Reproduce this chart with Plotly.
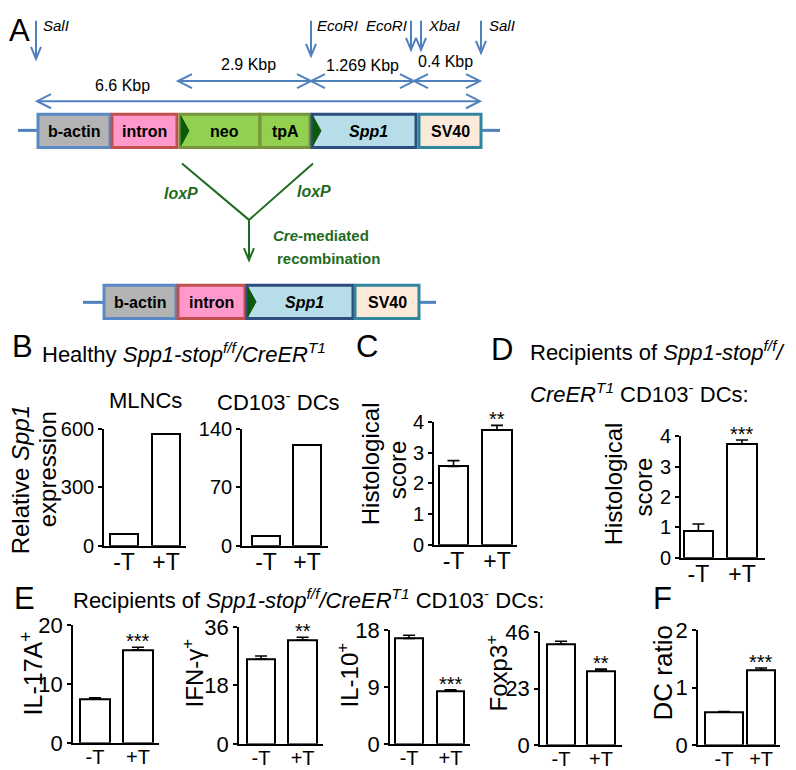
import plotly.graph_objects as go

# figure size and how the figure lands in the final picture
WF, HF = 780, 780
OX = 8                 # left page margin
SY, TY = 0.9625, 20    # vertical picture scale and top offset

groups = ['-T', '+T']

# B: relative Spp1 expression
mlnc_expr = [62, 574]
dc_expr = [12, 121]
# C / D: histological score
hist_c = [2.55, 3.74]
hist_c_err = [0.19, 0.15]
hist_d = [0.89, 3.74]
hist_d_err = [0.22, 0.13]
# E: % positive cells
il17a = [7.4, 15.8]
il17a_err = [0.25, 0.45]
ifng = [26.2, 32.0]
ifng_err = [0.9, 0.9]
il10 = [16.7, 8.4]
il10_err = [0.5, 0.15]
foxp3 = [41.1, 30.1]
foxp3_err = [1.2, 0.8]
# F
dc_ratio = [0.57, 1.30]
dc_ratio_err = [0.01, 0.04]

SANS = 'Liberation Sans, Arial, sans-serif'

Y_TOP = SY * TY
Y_BOT = SY * (TY + HF)


def px_x(x):
    return (x - OX) / WF


def px_y(y):
    return (Y_BOT - y) / (Y_BOT - Y_TOP)


panels = [
    dict(y=mlnc_expr, err=None, ymax=600, ticks=[0, 300, 600], box=(104, 186, 542, 426),
         xr=[-0.476, 1.476], w=0.667, stars=None, tf=20, xf=23),
    dict(y=dc_expr, err=None, ymax=140, ticks=[0, 70, 140], box=(242, 328, 542, 426),
         xr=[-0.585, 1.51], w=0.68, stars=None, tf=20, xf=23),
    dict(y=hist_c, err=hist_c_err, ymax=4, ticks=[0, 1, 2, 3, 4], box=(434, 517, 541, 419),
         xr=[-0.448, 1.46], w=0.67, stars='**', tf=20, xf=23),
    dict(y=hist_d, err=hist_d_err, ymax=4, ticks=[0, 1, 2, 3, 4], box=(681, 765, 554, 433),
         xr=[-0.40, 1.53], w=0.68, stars='***', tf=20, xf=23),
    dict(y=il17a, err=il17a_err, ymax=20, ticks=[0, 10, 20], box=(73, 159, 738, 621),
         xr=[-0.51, 1.49], w=0.7, stars='***', tf=22, xf=20),
    dict(y=ifng, err=ifng_err, ymax=36, ticks=[0, 18, 36], box=(239, 323, 739, 623),
         xr=[-0.53, 1.49], w=0.68, stars='**', tf=22, xf=20),
    dict(y=il10, err=il10_err, ymax=18, ticks=[0, 9, 18], box=(390, 470, 739, 626),
         xr=[-0.46, 1.47], w=0.67, stars='***', tf=22, xf=20),
    dict(y=foxp3, err=foxp3_err, ymax=46, ticks=[0, 23, 46], box=(540, 622, 740, 628),
         xr=[-0.525, 1.525], w=0.7, stars='**', tf=22, xf=20),
    dict(y=dc_ratio, err=dc_ratio_err, ymax=2, ticks=[0, 1, 2], box=(698, 780, 740, 626),
         xr=[-0.70, 1.51], w=[1.03, 0.76], stars='***', tf=22, xf=20),
]

fig = go.Figure()
layout = {}
annotations = []

for i, p in enumerate(panels, start=1):
    x0, x1, yb, yt = p['box']
    xa, ya = f'x{i}', f'y{i}'
    err = None
    if p['err'] is not None:
        err = dict(type='data', array=p['err'], arrayminus=[0, 0], symmetric=False,
                   color='black', thickness=1.6, width=6)
    fig.add_trace(go.Bar(
        x=[0, 1], y=p['y'], width=p['w'], xaxis=xa, yaxis=ya,
        marker=dict(color='white', line=dict(color='black', width=2)),
        error_y=err, showlegend=False, hoverinfo='skip'))
    layout[f'xaxis{i}'] = dict(
        domain=[px_x(x0), px_x(x1)], anchor=ya, range=p['xr'], tickvals=[0, 1], ticktext=groups,
        showline=True, linecolor='black', linewidth=1.6, ticks='', ticklen=0, showgrid=False,
        zeroline=False, ticklabelstandoff=-5,
        tickfont=dict(family=SANS, size=p['xf'], color='black'), fixedrange=True)
    layout[f'yaxis{i}'] = dict(
        domain=[px_y(yb), px_y(yt)], anchor=xa, range=[0, p['ymax']], tickvals=p['ticks'],
        showline=True, linecolor='black', linewidth=1.6, ticks='outside', ticklen=4,
        tickwidth=1.6, tickcolor='black', showgrid=False, zeroline=False,
        tickfont=dict(family=SANS, size=p['tf'], color='black'), fixedrange=True)
    if p['stars']:
        annotations.append(dict(
            xref=xa, yref=ya, x=1, y=p['y'][1] + p['err'][1], text=p['stars'],
            showarrow=False, yanchor='bottom', yshift=-7,
            font=dict(family=SANS, size=20, color='black')))

# overlay axis in reference picture pixels for the schematic and free text
layout['xaxis10'] = dict(domain=[0, 1], range=[OX, OX + WF], visible=False, fixedrange=True,
                         anchor='y10')
layout['yaxis10'] = dict(domain=[0, 1], range=[Y_BOT, Y_TOP], visible=False, fixedrange=True,
                         anchor='x10')
fig.add_trace(go.Scatter(x=[None], y=[None], xaxis='x10', yaxis='y10', showlegend=False))


def txt(x, y, s, size, color='black', xanchor='center', angle=0):
    annotations.append(dict(xref='x10', yref='y10', x=x, y=y, text=s, showarrow=False,
                            xanchor=xanchor, yanchor='middle', textangle=angle,
                            font=dict(family=SANS, size=size, color=color)))


shapes = []
BLUE = '#4f81bd'
GREEN = '#1f6b1f'


def line(x0, y0, x1, y1, color=BLUE, width=2):
    shapes.append(dict(type='line', xref='x10', yref='y10', x0=x0, y0=y0, x1=x1, y1=y1,
                       line=dict(color=color, width=width)))


def path(d, color=BLUE, width=2, fill=None):
    s = dict(type='path', xref='x10', yref='y10', path=d, line=dict(color=color, width=width))
    if fill:
        s['fillcolor'] = fill
    shapes.append(s)


def down_arrow(x, y0, y1, color=BLUE):
    line(x, y0, x, y1, color)
    path(f'M {x-5} {y1-12} L {x} {y1} L {x+5} {y1-12}', color)


def dbl_arrow(x0, x1, y):
    line(x0, y, x1, y)
    path(f'M {x0+14} {y-7} L {x0} {y} L {x0+14} {y+7}')
    path(f'M {x1-14} {y-7} L {x1} {y} L {x1-14} {y+7}')


def box(x0, x1, y0, y1, fill, edge, label, tri=False):
    shapes.append(dict(type='rect', xref='x10', yref='y10', x0=x0, x1=x1, y0=y0, y1=y1,
                       fillcolor=fill, line=dict(color=edge, width=3)))
    if tri:
        ym = (y0 + y1) / 2
        path(f'M {x0+1} {y0+2} L {x0+9} {ym} L {x0+1} {y1-2} Z', '#0b5a0b', 1, '#0b5a0b')
    txt((x0 + x1) / 2 + (4 if tri else 0), (y0 + y1) / 2 + 1, label, 16)


# A: restriction sites
down_arrow(36, 20, 58)
down_arrow(311, 20, 55)
down_arrow(411, 20, 49)
down_arrow(421, 20, 49)
down_arrow(481, 20, 52)
txt(41, 25, '<i>SalI</i>', 15, xanchor='left')
txt(315, 25, '<i>EcoRI</i>', 15, xanchor='left')
txt(364, 25, '<i>EcoRI</i>', 15, xanchor='left')
txt(426, 25, '<i>XbaI</i>', 15, xanchor='left')
txt(487, 25, '<i>SalI</i>', 15, xanchor='left')

dbl_arrow(178, 311, 80)
dbl_arrow(311, 414, 80)
dbl_arrow(414, 480, 80)
dbl_arrow(37, 480, 100)
txt(248, 63, '2.9 Kbp', 16)
txt(362, 64, '1.269 Kbp', 16)
txt(445, 61, '0.4 Kbp', 16)
txt(122, 84, '6.6 Kbp', 16)

# construct before recombination
line(18, 129, 37, 129, width=3)
line(482, 129, 500, 129, width=3)
box(38, 110, 113, 146, '#b3b3b3', '#5a8ac6', '<b>b-actin</b>')
box(112, 177, 113, 146, '#ff99cc', '#c0504d', '<b>intron</b>')
box(180, 260, 113, 146, '#92d050', '#77933c', '<b>neo</b>', tri=True)
box(260, 310, 113, 146, '#92d050', '#77933c', '<b>tpA</b>')
box(312, 416, 113, 146, '#b7dee8', '#2e4d7f', '<b><i>Spp1</i></b>', tri=True)
box(419, 481, 113, 146, '#fde9d9', '#31859c', '<b>SV40</b>')

# recombination
line(182, 162, 249, 218, GREEN)
line(313, 162, 249, 218, GREEN)
down_arrow(249, 218, 258, GREEN)
txt(181, 192, '<b><i>loxP</i></b>', 16, GREEN)
txt(314, 190, '<b><i>loxP</i></b>', 16, GREEN)
txt(321, 234, '<b><i>Cre</i>-mediated</b>', 15, GREEN)
txt(328, 256, '<b>recombination</b>', 15, GREEN)

# construct after recombination
line(83, 300, 103, 300, width=3)
line(419, 300, 436, 300, width=3)
box(104, 176, 283, 316, '#b3b3b3', '#5a8ac6', '<b>b-actin</b>')
box(178, 245, 283, 316, '#ff99cc', '#c0504d', '<b>intron</b>')
box(247, 353, 283, 316, '#b7dee8', '#2e4d7f', '<b><i>Spp1</i></b>', tri=True)
box(355, 419, 283, 316, '#fde9d9', '#31859c', '<b>SV40</b>')

# panel letters
for letter, x, y in [('A', 19, 30), ('B', 22, 344), ('C', 367, 344), ('D', 502, 347),
                     ('E', 24, 594), ('F', 662, 594)]:
    txt(x, y, letter, 31)

# titles
txt(40, 350, 'Healthy <i>Spp1-stop<sup>f/f</sup>/CreER<sup>T1</sup></i>', 22, xanchor='left')
txt(145, 398, 'MLNCs', 22)
txt(278, 398, 'CD103<sup>-</sup> DCs', 22)
txt(528, 348, 'Recipients of <i>Spp1-stop<sup>f/f</sup>/</i>', 22, xanchor='left')
txt(528, 390, '<i>CreER<sup>T1</sup></i> CD103<sup>-</sup> DCs:', 22, xanchor='left')
txt(71, 595, 'Recipients of <i>Spp1-stop<sup>f/f</sup>/CreER<sup>T1</sup></i> CD103<sup>-</sup> DCs:',
    22, xanchor='left')

# y-axis titles
txt(20, 477, 'Relative <i>Spp1</i>', 24, angle=-90)
txt(47, 466, 'expression', 24, angle=-90)
txt(370, 461, 'Histological', 24, angle=-90)
txt(397, 467, 'score', 24, angle=-90)
txt(613, 481, 'Histological', 24, angle=-90)
txt(643, 484, 'score', 24, angle=-90)
txt(32, 669, 'IL-17A<sup>+</sup>', 25, angle=-90)
txt(193, 669, 'IFN-γ<sup>+</sup>', 24, angle=-90)
txt(348, 671, 'IL-10<sup>+</sup>', 24, angle=-90)
txt(497, 669, 'Foxp3<sup>+</sup>', 24, angle=-90)
txt(663, 669, 'DC ratio', 26, angle=-90)

fig.update_layout(
    width=WF, height=HF, margin=dict(l=0, r=0, t=0, b=0), autosize=False,
    paper_bgcolor='white', plot_bgcolor='rgba(0,0,0,0)',
    annotations=annotations, shapes=shapes, bargap=0, **layout)

fig.write_html('out.html')
